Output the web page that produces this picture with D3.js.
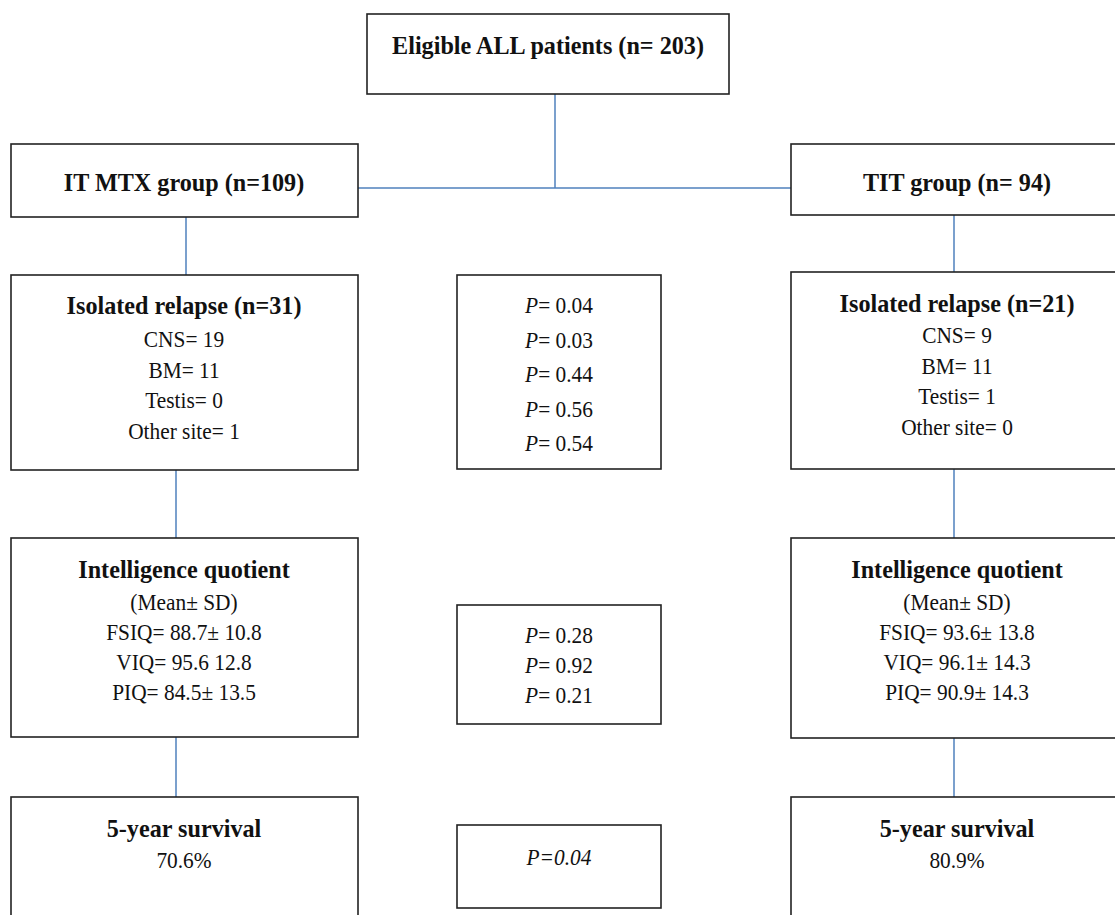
<!DOCTYPE html>
<html>
<head>
<meta charset="utf-8">
<script src="https://cdn.jsdelivr.net/npm/d3@7"></script>
<style>
  html, body { margin: 0; padding: 0; background: #fff; overflow: hidden; }
  svg { display: block; }
</style>
</head>
<body>
<svg id="chart" width="1115" height="915"></svg>
<script>
// ---- data ----
const rootLabel = "Eligible ALL patients (n= 203)";
const groupLabels = ["IT MTX group (n=109)", "TIT group (n= 94)"];
const relapseTitles = ["Isolated relapse (n=31)", "Isolated relapse (n=21)"];
const relapseSites = ["CNS", "BM", "Testis", "Other site"];
const relapseMTX = [19, 11, 0, 1];
const relapseTIT = [9, 11, 1, 0];
const relapseP = ["0.04", "0.03", "0.44", "0.56", "0.54"];
const iqTitle = "Intelligence quotient";
const iqSubtitle = "(Mean\u00b1 SD)";
const iqMTX = ["FSIQ= 88.7\u00b1 10.8", "VIQ= 95.6 12.8", "PIQ= 84.5\u00b1 13.5"];
const iqTIT = ["FSIQ= 93.6\u00b1 13.8", "VIQ= 96.1\u00b1 14.3", "PIQ= 90.9\u00b1 14.3"];
const iqP = ["0.28", "0.92", "0.21"];
const survivalTitle = "5-year survival";
const survivalValues = ["70.6%", "80.9%"];
const survivalP = "0.04";

// ---- layout ----
const svg = d3.select("#chart");
const SERIF = "'Liberation Serif', 'Times New Roman', serif";
const LINE = "#4f81bd";
const BORDER = "#222";
const BOLD_SIZE = 26, REG_SIZE = 23, SX = 0.93;

const col = {
  left:  { x0: 11,  x1: 358 },
  mid:   { x0: 457, x1: 661 },
  right: { x0: 791, x1: 1125 },
  top:   { x0: 367, x1: 729 }
};
const cx = c => (c.x0 + c.x1) / 2;

const linesG = svg.append("g");
const boxesG = svg.append("g");
const textG = svg.append("g");

function box(c, y0, y1) {
  boxesG.append("rect")
    .attr("x", c.x0).attr("y", y0)
    .attr("width", c.x1 - c.x0).attr("height", y1 - y0)
    .attr("fill", "#fff").attr("stroke", BORDER).attr("stroke-width", 1.6);
}
function line(x1, y1, x2, y2) {
  linesG.append("line").attr("x1", x1).attr("y1", y1).attr("x2", x2).attr("y2", y2)
    .attr("stroke", LINE).attr("stroke-width", 1.5);
}
function text(x, y, opts = {}) {
  const g = textG.append("g").attr("transform", `translate(${x},${y}) scale(${SX},1)`);
  return g.append("text")
    .attr("x", 0).attr("y", 0)
    .attr("text-anchor", "middle")
    .attr("font-family", SERIF)
    .attr("font-size", opts.bold ? BOLD_SIZE : REG_SIZE)
    .attr("font-weight", opts.bold ? "bold" : "normal")
    .attr("fill", "#111");
}
function plain(x, y, str, opts) { text(x, y, opts).text(str); }
function pline(x, y, val, allItalic = false) {
  const t = text(x, y, {});
  if (allItalic) {
    t.append("tspan").attr("font-style", "italic").text("P=" + val);
  } else {
    t.append("tspan").attr("font-style", "italic").text("P");
    t.append("tspan").text("= " + val);
  }
}

// connectors
line(555, 94, 555, 188);
line(col.left.x1, 188, col.right.x0, 188);
line(186, 217, 186, 275);
line(954, 215, 954, 272);
line(176, 470, 176, 538);
line(954, 469, 954, 538);
line(176, 737, 176, 797);
line(954, 738, 954, 797);

// row 0
box(col.top, 14, 94);
plain(cx(col.top), 54, rootLabel, { bold: true });

// row 1
box(col.left, 144, 217);
box(col.right, 144, 215);
plain(184, 191, groupLabels[0], { bold: true });
plain(957, 191, groupLabels[1], { bold: true });

// row 2: relapse
box(col.left, 275, 470);
box(col.mid, 275, 469);
box(col.right, 272, 469);
plain(184, 314, relapseTitles[0], { bold: true });
relapseSites.forEach((s, i) => plain(184, 347 + i * 30.5, `${s}= ${relapseMTX[i]}`));
plain(957, 312, relapseTitles[1], { bold: true });
relapseSites.forEach((s, i) => plain(957, 343 + i * 30.5, `${s}= ${relapseTIT[i]}`));
relapseP.forEach((p, i) => pline(559, 313 + i * 34.5, p));

// row 3: IQ
box(col.left, 538, 737);
box(col.mid, 605, 724);
box(col.right, 538, 738);
[[184, iqMTX], [957, iqTIT]].forEach(([x, rows]) => {
  plain(x, 578, iqTitle, { bold: true });
  plain(x, 610, iqSubtitle);
  rows.forEach((r, i) => plain(x, 640 + i * 30, r));
});
iqP.forEach((p, i) => pline(559, 643 + i * 30, p));

// row 4: survival
box(col.left, 797, 940);
box(col.mid, 825, 908);
box(col.right, 797, 940);
[[184, survivalValues[0]], [957, survivalValues[1]]].forEach(([x, v]) => {
  plain(x, 837, survivalTitle, { bold: true });
  plain(x, 868, v);
});
pline(559, 865, survivalP, true);
</script>
</body>
</html>
